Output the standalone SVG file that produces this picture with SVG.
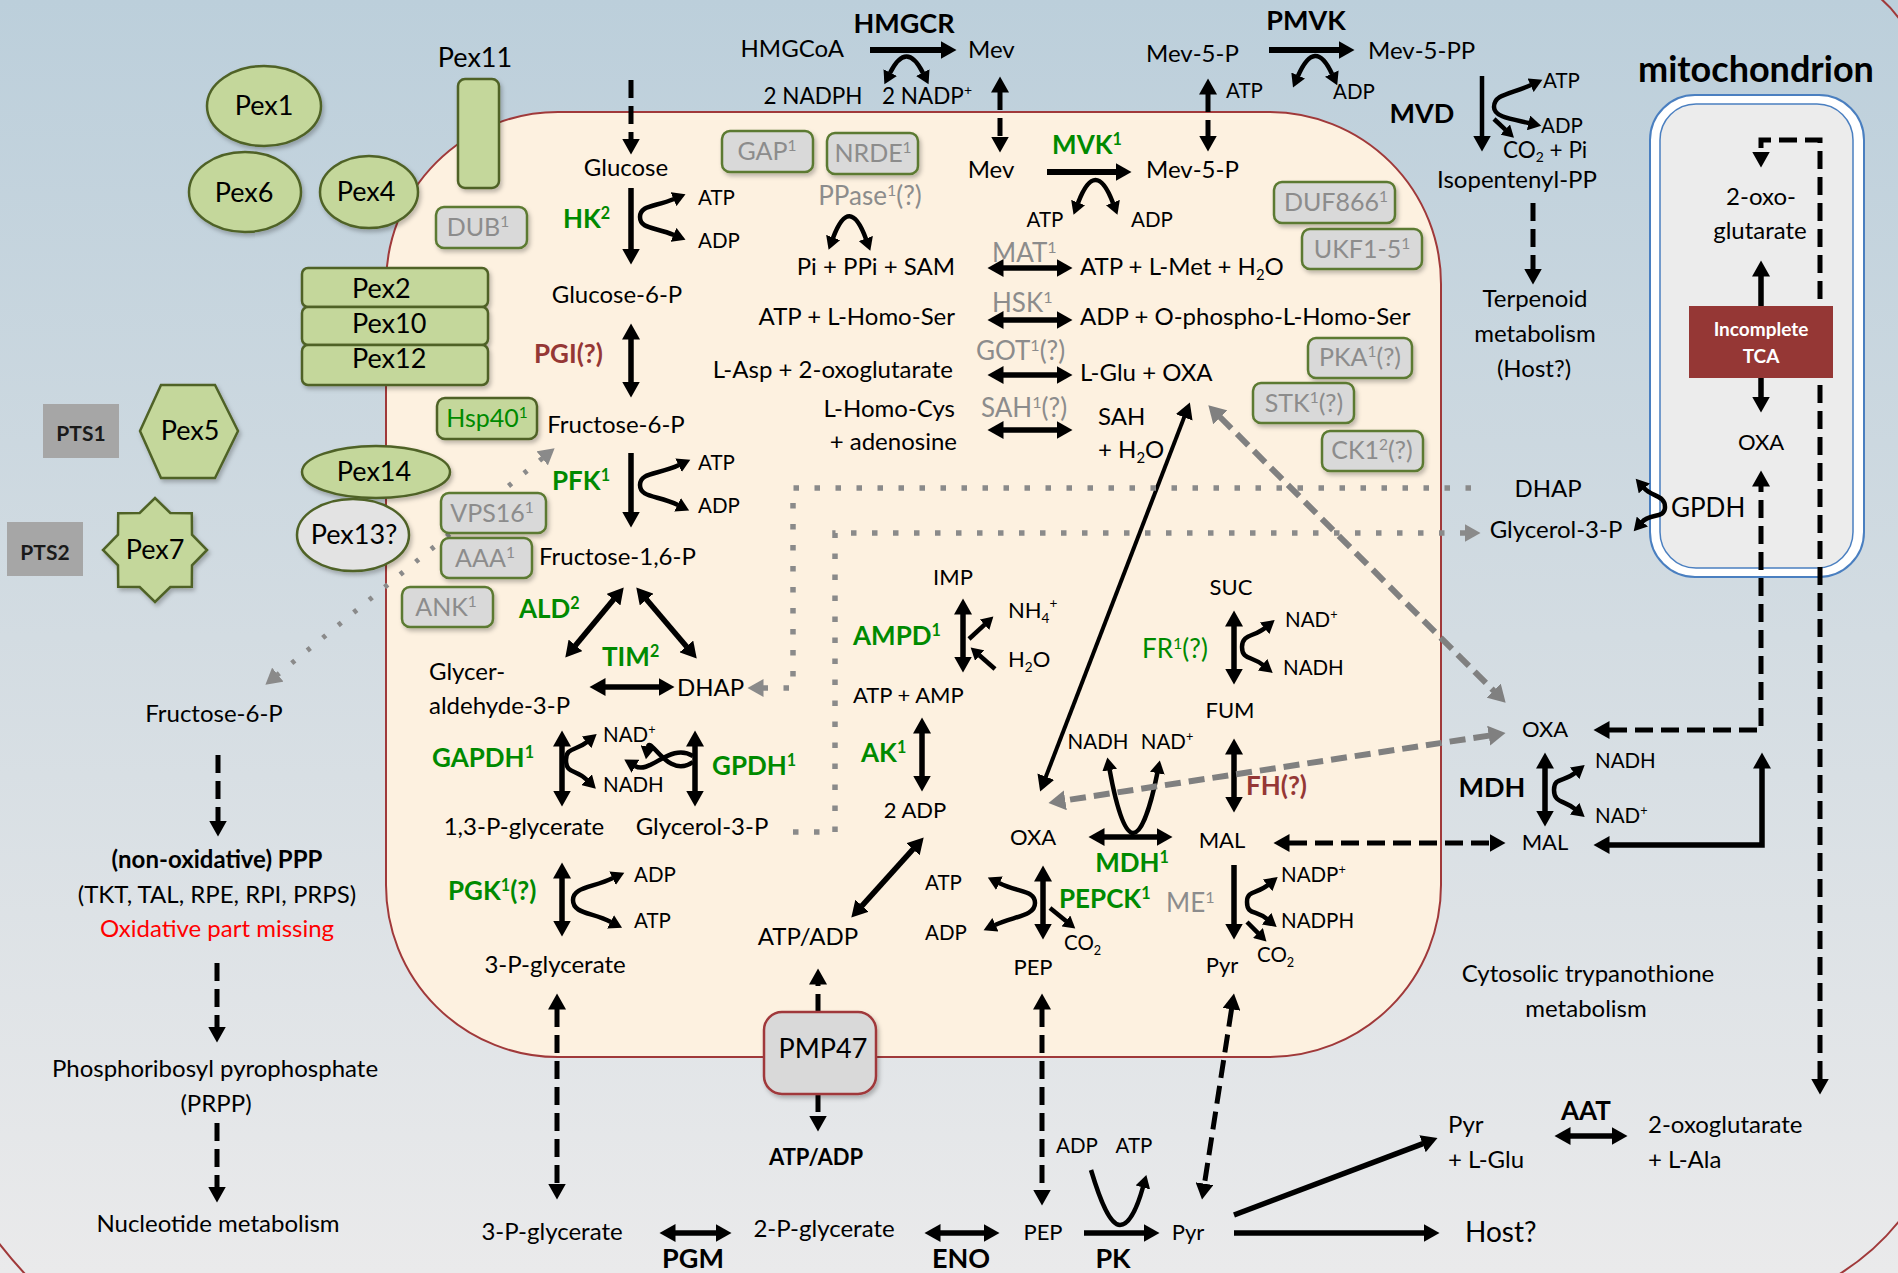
<svg xmlns="http://www.w3.org/2000/svg" width="1898" height="1273" viewBox="0 0 1898 1273">
<defs>
  <linearGradient id="bg" x1="0" y1="0" x2="0" y2="1">
    <stop offset="0" stop-color="#bccfdb"/>
    <stop offset="0.5" stop-color="#d3dce2"/>
    <stop offset="1" stop-color="#eaeaeb"/>
  </linearGradient>
  <filter id="sh" x="-20%" y="-20%" width="150%" height="160%">
    <feDropShadow dx="2" dy="3" stdDeviation="2" flood-color="#000" flood-opacity="0.25"/>
  </filter>
  <marker id="ak" markerUnits="userSpaceOnUse" markerWidth="17" markerHeight="18" refX="0.5" refY="9" orient="auto-start-reverse"><path d="M0,0 L16,9 L0,18 Z" fill="#000"/></marker>
  <marker id="mc" markerUnits="userSpaceOnUse" markerWidth="14" markerHeight="15" refX="0.5" refY="7.5" orient="auto-start-reverse"><path d="M0,0 L13,7.5 L0,15 Z" fill="#000"/></marker>
  <marker id="ms" markerUnits="userSpaceOnUse" markerWidth="13" markerHeight="14" refX="0.5" refY="7" orient="auto-start-reverse"><path d="M0,0 L12,7 L0,14 Z" fill="#000"/></marker>
  <marker id="mg" markerUnits="userSpaceOnUse" markerWidth="18" markerHeight="20" refX="0.5" refY="10" orient="auto-start-reverse"><path d="M0,0 L17,10 L0,20 Z" fill="#808080"/></marker>
  <marker id="md" markerUnits="userSpaceOnUse" markerWidth="17" markerHeight="18" refX="0.5" refY="9" orient="auto-start-reverse"><path d="M0,0 L16,9 L0,18 Z" fill="#8a8a8a"/></marker>
</defs>
<style>
  text { font-family: Lato, "Open Sans", sans-serif; fill: #000; }
  .m { font-size: 24px; }
  .n { font-size: 22px; }
  .c { font-size: 20.5px; }
  .e { font-size: 26px; font-weight: 700; fill: #008a00; }
  .eg { font-size: 26px; fill: #008a00; }
  .k { font-size: 27px; font-weight: 700; }
  .r { font-size: 26px; font-weight: 700; fill: #953735; }
  .g { font-size: 26px; fill: #8c8c8c; }
  .gb { font-size: 25px; fill: #8c8c8c; }
  .px { font-size: 27px; }
  .mid { text-anchor: middle; }
  .end { text-anchor: end; }
  .sp { font-size: 62%; }
  .pex { fill: #c4d79b; stroke: #4f6228; stroke-width: 2.5; filter: url(#sh); }
  .bx { fill: #d9d9d9; stroke: #5b7a30; stroke-width: 2.5; filter: url(#sh); }
  .a { fill: none; stroke: #000; stroke-width: 5.5; marker-end: url(#ak); }
  .a2 { fill: none; stroke: #000; stroke-width: 5.5; marker-start: url(#ak); marker-end: url(#ak); }
  .d { fill: none; stroke: #000; stroke-width: 5; stroke-dasharray: 18 8; marker-end: url(#ak); }
  .d2 { fill: none; stroke: #000; stroke-width: 5; stroke-dasharray: 18 8; marker-start: url(#ak); marker-end: url(#ak); }
  .cf { fill: none; stroke: #000; stroke-width: 4.5; marker-start: url(#mc); marker-end: url(#mc); }
  .cf1 { fill: none; stroke: #000; stroke-width: 4.5; marker-end: url(#mc); }
  .s { fill: none; stroke: #000; stroke-width: 4.5; marker-end: url(#ms); }
  .g2 { fill: none; stroke: #808080; stroke-width: 6; stroke-dasharray: 16 8; marker-start: url(#mg); marker-end: url(#mg); }
  .t { fill: none; stroke: #8a8a8a; stroke-width: 5.5; stroke-dasharray: 5.5 15.5; marker-end: url(#md); }
  .t2 { fill: none; stroke: #8a8a8a; stroke-width: 5; stroke-dasharray: 4 16; marker-start: url(#md); marker-end: url(#md); }
</style>

<!-- background and compartments -->
<rect x="0" y="0" width="1898" height="1273" fill="url(#bg)"/>
<g id="cell-membrane" fill="none" stroke="#a0393a" stroke-width="2">
  <path d="M1880,-2 Q1892,8 1900,20"/>
  <path d="M1838,1275 Q1875,1252 1900,1220"/>
  <path d="M-2,1242 Q12,1260 26,1275"/>
</g>
<rect id="glycosome" x="386" y="112" width="1055" height="945" rx="172" fill="#fdf1e0" stroke="#a0393a" stroke-width="2"/>
<g id="mitochondrion">
  <rect x="1650" y="95" width="214" height="482" rx="45" fill="#ffffff" stroke="#4a7fc0" stroke-width="2"/>
  <rect x="1660" y="104" width="193" height="464" rx="36" fill="#ececec" stroke="#4a7fc0" stroke-width="1.5"/>
</g>

<!-- connectors -->
<g id="connectors">
  <!-- glycolysis -->
  <path class="d" d="M631,80 V139"/>
  <path class="a" d="M631,188 V249"/>
  <path class="a2" d="M631,339 V382"/>
  <path class="a" d="M631,453 V512"/>
  <path class="a2" d="M613.8,599.3 L575.2,645.7"/>
  <path class="a2" d="M646.3,599.2 L686.7,646.8"/>
  <path class="a2" d="M605,687 H659"/>
  <path class="a2" d="M562,746 V791"/>
  <path class="a2" d="M695,746 V791"/>
  <path class="a2" d="M562,878 V921"/>
  <path class="d2" d="M557,1009 V1184"/>
  <path class="cf" d="M674,199 C655,207 640,205 640,217 C640,229 655,227 674,235"/>
  <path class="cf" d="M679,465 C658,475 640,472 640,485 C640,498 658,495 678,505"/>
  <path class="cf" d="M587,742 C576,751 566,747 566,760 C566,774 576,769 587,780"/>
  <path class="cf1" d="M693,756 C670,742 650,775 635,766"/>
  <path class="cf1" d="M693,762 C668,780 650,735 648,747"/>
  <path class="cf" d="M613,878 C592,888 573,887 573,900 C573,914 592,912 611,922"/>
  <!-- mevalonate pathway -->
  <path fill="none" stroke="#000" stroke-width="6" marker-end="url(#ak)" d="M870,50 H941"/>
  <path class="cf" d="M890,73 Q906.5,40 923,73"/>
  <path class="d2" d="M1000,92 V137"/>
  <path fill="none" stroke="#000" stroke-width="6" marker-end="url(#ak)" d="M1047,172 H1116"/>
  <path class="cf" d="M1078,203 Q1095.5,157 1113,203"/>
  <path class="d2" d="M1208,94 V136"/>
  <path fill="none" stroke="#000" stroke-width="6" marker-end="url(#ak)" d="M1269,50 H1339"/>
  <path class="cf" d="M1298,76 Q1315,37 1332,74"/>
  <path fill="none" stroke="#000" stroke-width="4.5" marker-end="url(#ak)" d="M1482,76 V136"/>
  <path class="cf" d="M1531,85 C1511,94 1494,94 1494,107 C1494,117 1511,119 1529,123"/>
  <path class="s" d="M1494,119 L1505.6,129.9"/>
  <path class="d" d="M1533,203 V269"/>
  <!-- methionine / amino acid reactions -->
  <path class="cf" d="M833,238 Q849.5,194 866,239"/>
  <path class="a2" d="M1003,268 H1057"/>
  <path class="a2" d="M1003,320 H1057"/>
  <path class="a2" d="M1003,375 H1057"/>
  <path class="a2" d="M1003,430 H1057"/>
  <!-- purine salvage -->
  <path class="a2" d="M963,614 V657"/>
  <path class="s" d="M969,639 L984.9,624.4"/>
  <path class="s" d="M995,669 L979.3,655.2"/>
  <path class="a2" d="M922,733 V776"/>
  <path class="a2" d="M913.3,848.9 L861.7,906.1"/>
  <!-- succinate fermentation -->
  <path class="a2" d="M1234,626 V669"/>
  <path class="cf" d="M1265,628 C1254,637 1242,634 1242,647 C1242,660 1252,656 1263,665"/>
  <path class="a2" d="M1234,754 V797"/>
  <path class="a2" d="M1104,837 H1157"/>
  <path class="cf" d="M1109.6,769.7 C1116,805 1124,833 1133,833 C1142,833 1151,805 1157.4,772.7"/>
  <path class="a2" d="M1043,881 V924"/>
  <path class="cf" d="M999,883 C1019,893 1035,890 1035,903 C1035,916 1015,916 995,925"/>
  <path class="s" d="M1050,908 L1066.3,921.2"/>
  <path class="a" d="M1234,865 V924"/>
  <path class="cf" d="M1268,885 C1257,894 1247,890 1247,902 C1247,915 1256,910 1267,919"/>
  <path class="s" d="M1247,922 L1258.3,933.3"/>
  <path fill="none" stroke="#000" stroke-width="4" marker-start="url(#ak)" marker-end="url(#ak)" d="M1184.3,416.9 L1045.7,777.1"/>
  <!-- transport across the membrane -->
  <path class="d2" d="M1042,1009 V1190"/>
  <path class="d2" d="M1231.6,1008.8 L1204.4,1184.2"/>
  <path class="d" d="M818,1012 V984"/>
  <path class="d" d="M818,1094 V1116"/>
  <path class="d2" d="M1289,843 H1490"/>
  <path class="g2" d="M1220,417 L1494,691"/>
  <path class="g2" d="M1489.2,735.6 L1064.8,800.4"/>
  <path class="t" d="M1471,488 H793 V688 H763"/>
  <path class="t" d="M793,832 H835 V533 H1465"/>
  <path class="t2" d="M542.6,458.1 L277.4,674.9"/>
  <!-- cytosol -->
  <path class="a2" d="M675,1233 H716"/>
  <path class="a2" d="M940,1233 H984"/>
  <path class="a" d="M1084,1233 H1144"/>
  <path class="cf1" d="M1091,1170 C1100,1200 1110,1225 1120,1225 C1130,1225 1138,1205 1143,1187"/>
  <path class="a" d="M1234,1233 H1424"/>
  <path class="a" d="M1234,1215 L1423,1143.6"/>
  <path class="a2" d="M1570,1136 H1612"/>
  <path class="a2" d="M1545,768 V811"/>
  <path class="cf" d="M1575,773 C1564,782 1554,777 1554,790 C1554,803 1564,800 1575,809"/>
  <path class="d" d="M218,755 V821"/>
  <path class="d" d="M217,963 V1027"/>
  <path class="d" d="M217,1123 V1187"/>
  <!-- mitochondrion links -->
  <path class="a2" d="M1761,276 V397"/>
  <path class="d2" d="M1820,1079 V140 H1761 V152"/>
  <path class="d2" d="M1609,730 H1761 V486"/>
  <path class="a2" d="M1609,845 H1762 V768"/>
  <path class="cf" d="M1644,488 C1652,497 1665,495 1665,507 C1665,519 1650,513 1642,522"/>
</g>

<!-- peroxins -->
<g id="pex1"><ellipse class="pex" cx="264" cy="106" rx="57" ry="40"/><text class="px mid" x="264" y="115">Pex1</text></g>
<g id="pex6"><ellipse class="pex" cx="245" cy="192" rx="56" ry="40"/><text class="px mid" x="244" y="202">Pex6</text></g>
<g id="pex4"><ellipse class="pex" cx="369" cy="192" rx="49" ry="36"/><text class="px mid" x="366" y="201">Pex4</text></g>
<g id="pex11"><text class="px mid" x="475" y="67">Pex11</text><rect class="pex" x="458" y="79" width="41" height="109" rx="7"/></g>
<g id="pex2"><rect class="pex" x="302" y="268" width="186" height="39" rx="6"/><text class="px" x="352" y="298">Pex2</text></g>
<g id="pex10"><rect class="pex" x="302" y="307" width="186" height="38" rx="6"/><text class="px" x="352" y="333">Pex10</text></g>
<g id="pex12"><rect class="pex" x="302" y="345" width="186" height="40" rx="6"/><text class="px" x="352" y="368">Pex12</text></g>
<g id="pts1"><rect x="43" y="404" width="76" height="54" fill="#a6a6a6"/><text class="mid" x="81" y="441" style="font-size:21px;font-weight:700;fill:#1a1a1a">PTS1</text></g>
<g id="pex5"><polygon class="pex" points="161,385 215,385 238,431 215,478 161,478 140,431"/><text class="px mid" x="190" y="440">Pex5</text></g>
<g id="pts2"><rect x="7" y="522" width="76" height="54" fill="#a6a6a6"/><text class="mid" x="45" y="560" style="font-size:21px;font-weight:700;fill:#1a1a1a">PTS2</text></g>
<g id="pex7"><polygon class="pex" points="207,550 192,565.3 191.8,586.8 170.3,587 155,602 139.7,587 118.2,586.8 118,565.3 103,550 118,534.7 118.2,513.2 139.7,513 155,498 170.3,513 191.8,513.2 192,534.7"/><text class="px mid" x="155" y="559">Pex7</text></g>
<g id="pex14"><ellipse class="pex" cx="376" cy="472" rx="74" ry="26"/><text class="px mid" x="374" y="481">Pex14</text></g>
<g id="pex13"><ellipse cx="353" cy="535" rx="56" ry="36" fill="#e3e3e3" stroke="#4f6228" stroke-width="2.5" filter="url(#sh)"/><text class="px mid" x="354" y="544">Pex13?</text></g>

<!-- glycosomal proteins of unknown role -->
<g id="dub"><rect class="bx" x="436" y="207" width="91" height="41" rx="8"/><text class="gb mid" x="478" y="236">DUB<tspan class="sp" dy="-9">1</tspan></text></g>
<g id="hsp40"><rect x="437" y="398" width="100" height="41" rx="8" fill="#c4d79b" stroke="#4f6228" stroke-width="2.5" filter="url(#sh)"/><text class="mid" x="487" y="427" style="font-size:25px;fill:#008a00">Hsp40<tspan class="sp" dy="-9">1</tspan></text></g>
<g id="vps16"><rect class="bx" x="441" y="493" width="105" height="40" rx="8"/><text class="gb mid" x="492" y="522">VPS16<tspan class="sp" dy="-9">1</tspan></text></g>
<g id="aaa"><rect class="bx" x="441" y="538" width="91" height="40" rx="8"/><text class="gb mid" x="485" y="567">AAA<tspan class="sp" dy="-9">1</tspan></text></g>
<g id="ank"><rect class="bx" x="402" y="587" width="91" height="40" rx="8"/><text class="gb mid" x="446" y="616">ANK<tspan class="sp" dy="-9">1</tspan></text></g>
<g id="gap"><rect class="bx" x="722" y="131" width="91" height="41" rx="8"/><text class="gb mid" x="767" y="160">GAP<tspan class="sp" dy="-9">1</tspan></text></g>
<g id="nrde"><rect class="bx" x="827" y="133" width="91" height="41" rx="8"/><text class="gb mid" x="873" y="162">NRDE<tspan class="sp" dy="-9">1</tspan></text></g>
<g id="duf866"><rect class="bx" x="1274" y="182" width="121" height="41" rx="8"/><text class="gb mid" x="1336" y="211">DUF866<tspan class="sp" dy="-9">1</tspan></text></g>
<g id="ukf"><rect class="bx" x="1302" y="229" width="120" height="40" rx="8"/><text class="gb mid" x="1362" y="258">UKF1-5<tspan class="sp" dy="-9">1</tspan></text></g>
<g id="pka"><rect class="bx" x="1308" y="338" width="104" height="40" rx="8"/><text class="gb mid" x="1360" y="366">PKA<tspan class="sp" dy="-9">1</tspan><tspan dy="9">(?)</tspan></text></g>
<g id="stk"><rect class="bx" x="1253" y="383" width="101" height="40" rx="8"/><text class="gb mid" x="1304" y="412">STK<tspan class="sp" dy="-9">1</tspan><tspan dy="9">(?)</tspan></text></g>
<g id="ck1"><rect class="bx" x="1322" y="431" width="101" height="40" rx="8"/><text class="gb mid" x="1372" y="459">CK1<tspan class="sp" dy="-9">2</tspan><tspan dy="9">(?)</tspan></text></g>
<g id="pmp47"><rect x="764" y="1012" width="112" height="82" rx="18" fill="#d9d9d9" stroke="#a0393a" stroke-width="2.5" filter="url(#sh)"/><text class="px mid" x="823" y="1058">PMP47</text></g>

<!-- mevalonate pathway nodes -->
<g id="hmgcr"><text class="k mid" x="904" y="33">HMGCR</text></g>
<g id="hmgcoa"><text class="m end" x="844" y="57">HMGCoA</text></g>
<g id="mev-out"><text class="m" x="968" y="58">Mev</text></g>
<g id="nadph-hmgcr"><text class="mid" x="813" y="104" style="font-size:22.5px">2 NADPH</text></g>
<g id="nadp-hmgcr"><text class="mid" x="927" y="104" style="font-size:22.5px">2 NADP<tspan class="sp" dy="-9">+</tspan></text></g>
<g id="mev-in"><text class="m mid" x="991" y="178">Mev</text></g>
<g id="mvk"><text class="e mid" x="1087" y="154">MVK<tspan class="sp" dy="-9">1</tspan></text></g>
<g id="mvk-atp"><text class="c mid" x="1045" y="227">ATP</text></g>
<g id="mvk-adp"><text class="c mid" x="1152" y="227">ADP</text></g>
<g id="mev5p-in"><text class="m" x="1146" y="178">Mev-5-P</text></g>
<g id="mev5p-out"><text class="m" x="1146" y="62">Mev-5-P</text></g>
<g id="pmvk-atp"><text class="c" x="1226" y="98">ATP</text></g>
<g id="pmvk"><text class="k mid" x="1306" y="30">PMVK</text></g>
<g id="mev5pp"><text class="m" x="1368" y="59">Mev-5-PP</text></g>
<g id="pmvk-adp"><text class="c" x="1333" y="99">ADP</text></g>
<g id="mvd"><text class="k mid" x="1422" y="123">MVD</text></g>
<g id="mvd-atp"><text class="c" x="1543" y="88">ATP</text></g>
<g id="mvd-adp"><text class="c" x="1541" y="133">ADP</text></g>
<g id="mvd-co2"><text x="1503" y="158" style="font-size:22.5px">CO<tspan class="sp" dy="4">2</tspan><tspan dy="-4"> + Pi</tspan></text></g>
<g id="ipp"><text class="m mid" x="1517" y="188">Isopentenyl-PP</text></g>
<g id="terpenoid"><text class="m mid" x="1535" y="307">Terpenoid</text><text class="m mid" x="1535" y="342">metabolism</text><text class="m mid" x="1534" y="377">(Host?)</text></g>

<!-- mitochondrion nodes -->
<g id="mito-label"><text class="mid" x="1756" y="82" style="font-size:36px;font-weight:700">mitochondrion</text></g>
<g id="mito-2og"><text class="m mid" x="1761" y="205">2-oxo-</text><text class="m mid" x="1760" y="239">glutarate</text></g>
<g id="tca"><rect x="1689" y="306" width="144" height="72" fill="#953735"/><text class="mid" x="1761" y="336" style="font-size:19px;font-weight:700;fill:#fff">Incomplete</text><text class="mid" x="1761" y="363" style="font-size:19px;font-weight:700;fill:#fff">TCA</text></g>
<g id="mito-oxa"><text class="n mid" x="1761" y="450">OXA</text></g>
<g id="cyt-dhap"><text class="m mid" x="1548" y="497">DHAP</text></g>
<g id="cyt-g3p"><text class="m mid" x="1556" y="538">Glycerol-3-P</text></g>
<g id="mito-gpdh"><text x="1671" y="517" style="font-size:26px">GPDH</text></g>

<!-- cytosol nodes -->
<g id="cyt-oxa"><text class="n mid" x="1545" y="737">OXA</text></g>
<g id="cyt-mdh"><text class="k mid" x="1492" y="797">MDH</text></g>
<g id="cyt-nadh"><text class="c" x="1595" y="768">NADH</text></g>
<g id="cyt-nad"><text class="c" x="1595" y="823">NAD<tspan class="sp" dy="-8">+</tspan></text></g>
<g id="cyt-mal"><text class="n mid" x="1545" y="850">MAL</text></g>
<g id="trypanothione"><text class="m mid" x="1588" y="982">Cytosolic trypanothione</text><text class="m mid" x="1586" y="1017">metabolism</text></g>
<g id="pyr-glu"><text class="m" x="1448" y="1133">Pyr</text><text class="m" x="1448" y="1168">+ L-Glu</text></g>
<g id="aat"><text class="mid" x="1586" y="1120" style="font-size:26px;font-weight:700">AAT</text></g>
<g id="og-ala"><text class="m" x="1648" y="1133">2-oxoglutarate</text><text class="m" x="1648" y="1168">+ L-Ala</text></g>
<g id="host"><text x="1465" y="1242" style="font-size:28px">Host?</text></g>
<g id="cyt-3pg"><text class="m mid" x="552" y="1240">3-P-glycerate</text></g>
<g id="pgm"><text class="k mid" x="693" y="1268">PGM</text></g>
<g id="cyt-2pg"><text class="m mid" x="824" y="1237">2-P-glycerate</text></g>
<g id="eno"><text class="k mid" x="961" y="1268">ENO</text></g>
<g id="cyt-pep"><text class="n mid" x="1043" y="1240">PEP</text></g>
<g id="pk"><text class="k mid" x="1113" y="1268">PK</text></g>
<g id="pk-adp"><text class="c mid" x="1077" y="1153">ADP</text></g>
<g id="pk-atp"><text class="c mid" x="1134" y="1153">ATP</text></g>
<g id="cyt-pyr"><text class="n mid" x="1188" y="1240">Pyr</text></g>
<g id="cyt-atpadp"><text class="mid" x="816" y="1165" style="font-size:22px;font-weight:700">ATP/ADP</text></g>
<g id="cyt-f6p"><text class="m mid" x="214" y="722">Fructose-6-P</text></g>
<g id="ppp"><text class="mid" x="217" y="868" style="font-size:24px;font-weight:700">(non-oxidative) PPP</text><text class="m mid" x="217" y="903">(TKT, TAL, RPE, RPI, PRPS)</text><text class="m mid" x="217" y="937" style="fill:#ff0000">Oxidative part missing</text></g>
<g id="prpp"><text class="m mid" x="215" y="1077">Phosphoribosyl pyrophosphate</text><text class="m mid" x="216" y="1112">(PRPP)</text></g>
<g id="nucleotide"><text class="m mid" x="218" y="1232">Nucleotide metabolism</text></g>

<!-- glycosome: glycolysis -->
<g id="glucose"><text class="m mid" x="626" y="176">Glucose</text></g>
<g id="hk"><text class="e" x="563" y="228">HK<tspan class="sp" dy="-9">2</tspan></text></g>
<g id="hk-atp"><text class="c" x="698" y="205">ATP</text></g>
<g id="hk-adp"><text class="c" x="698" y="248">ADP</text></g>
<g id="g6p"><text class="m mid" x="617" y="303">Glucose-6-P</text></g>
<g id="pgi"><text class="r" x="534" y="363">PGI(?)</text></g>
<g id="f6p"><text class="m mid" x="616" y="433">Fructose-6-P</text></g>
<g id="pfk"><text class="e" x="552" y="490">PFK<tspan class="sp" dy="-9">1</tspan></text></g>
<g id="pfk-atp"><text class="c" x="698" y="470">ATP</text></g>
<g id="pfk-adp"><text class="c" x="698" y="513">ADP</text></g>
<g id="f16bp"><text class="m" x="539" y="565">Fructose-1,6-P</text></g>
<g id="ald"><text class="e" x="519" y="618">ALD<tspan class="sp" dy="-9">2</tspan></text></g>
<g id="tim"><text class="e" x="602" y="666">TIM<tspan class="sp" dy="-9">2</tspan></text></g>
<g id="gap3p"><text class="m" x="429" y="680">Glycer-</text><text class="m" x="429" y="714">aldehyde-3-P</text></g>
<g id="dhap"><text class="m" x="677" y="696">DHAP</text></g>
<g id="gapdh"><text class="e" x="432" y="767">GAPDH<tspan class="sp" dy="-9">1</tspan></text></g>
<g id="gapdh-nad"><text class="c" x="603" y="742">NAD<tspan class="sp" dy="-8">+</tspan></text></g>
<g id="gapdh-nadh"><text class="c" x="603" y="792">NADH</text></g>
<g id="gpdh"><text class="e" x="712" y="775">GPDH<tspan class="sp" dy="-9">1</tspan></text></g>
<g id="bpg"><text class="m mid" x="524" y="835">1,3-P-glycerate</text></g>
<g id="g3p"><text class="m mid" x="702" y="835">Glycerol-3-P</text></g>
<g id="pgk"><text class="e" x="448" y="900">PGK<tspan class="sp" dy="-9">1</tspan><tspan dy="9">(?)</tspan></text></g>
<g id="pgk-adp"><text class="c" x="634" y="882">ADP</text></g>
<g id="pgk-atp"><text class="c" x="634" y="928">ATP</text></g>
<g id="pg3"><text class="m mid" x="555" y="973">3-P-glycerate</text></g>
<g id="atpadp-in"><text class="m mid" x="808" y="945">ATP/ADP</text></g>

<!-- glycosome: methionine cycle and amino acids -->
<g id="ppase"><text class="g mid" x="870" y="205">PPase<tspan class="sp" dy="-9">1</tspan><tspan dy="9">(?)</tspan></text></g>
<g id="sam"><text class="m end" x="955" y="275">Pi + PPi + SAM</text></g>
<g id="mat"><text class="g" x="992" y="262">MAT<tspan class="sp" dy="-9">1</tspan></text></g>
<g id="met"><text class="m" x="1080" y="275">ATP + L-Met + H<tspan class="sp" dy="5">2</tspan><tspan dy="-5">O</tspan></text></g>
<g id="homoser"><text class="m end" x="955" y="325">ATP + L-Homo-Ser</text></g>
<g id="hsk"><text class="g" x="992" y="312">HSK<tspan class="sp" dy="-9">1</tspan></text></g>
<g id="phosphohomoser"><text class="m" x="1080" y="325">ADP + O-phospho-L-Homo-Ser</text></g>
<g id="asp"><text class="m end" x="953" y="378">L-Asp + 2-oxoglutarate</text></g>
<g id="got"><text class="g" x="976" y="360">GOT<tspan class="sp" dy="-9">1</tspan><tspan dy="9">(?)</tspan></text></g>
<g id="glu-oxa"><text class="m" x="1080" y="381">L-Glu + OXA</text></g>
<g id="homocys"><text class="m end" x="955" y="417">L-Homo-Cys</text><text class="m end" x="957" y="450">+ adenosine</text></g>
<g id="sahh"><text class="g" x="981" y="417">SAH<tspan class="sp" dy="-9">1</tspan><tspan dy="9">(?)</tspan></text></g>
<g id="sah"><text class="m" x="1098" y="425">SAH</text><text class="m" x="1098" y="458">+ H<tspan class="sp" dy="5">2</tspan><tspan dy="-5">O</tspan></text></g>

<!-- glycosome: purine salvage -->
<g id="imp"><text class="n mid" x="953" y="585">IMP</text></g>
<g id="ampd"><text class="e" x="853" y="645">AMPD<tspan class="sp" dy="-9">1</tspan></text></g>
<g id="nh4"><text class="n" x="1008" y="618">NH<tspan class="sp" dy="5">4</tspan><tspan class="sp" dy="-15">+</tspan></text></g>
<g id="ampd-h2o"><text class="n" x="1008" y="667">H<tspan class="sp" dy="5">2</tspan><tspan dy="-5">O</tspan></text></g>
<g id="atp-amp"><text class="n" x="853" y="703">ATP + AMP</text></g>
<g id="ak"><text class="e" x="861" y="762">AK<tspan class="sp" dy="-9">1</tspan></text></g>
<g id="adp2"><text class="n mid" x="915" y="818">2 ADP</text></g>

<!-- glycosome: succinate fermentation -->
<g id="suc"><text class="n mid" x="1231" y="595">SUC</text></g>
<g id="fr"><text class="eg" x="1142" y="658">FR<tspan class="sp" dy="-9">1</tspan><tspan dy="9">(?)</tspan></text></g>
<g id="fr-nad"><text class="c" x="1285" y="627">NAD<tspan class="sp" dy="-8">+</tspan></text></g>
<g id="fr-nadh"><text class="c" x="1283" y="675">NADH</text></g>
<g id="fum"><text class="n mid" x="1230" y="718">FUM</text></g>
<g id="fh"><text class="r" x="1246" y="795">FH(?)</text></g>
<g id="mal"><text class="n mid" x="1222" y="848">MAL</text></g>
<g id="oxa"><text class="n mid" x="1033" y="845">OXA</text></g>
<g id="mdh-nadh"><text class="c mid" x="1098" y="749">NADH</text></g>
<g id="mdh-nad"><text class="c mid" x="1167" y="749">NAD<tspan class="sp" dy="-8">+</tspan></text></g>
<g id="mdh"><text class="e mid" x="1132" y="872">MDH<tspan class="sp" dy="-9">1</tspan></text></g>
<g id="pepck"><text class="e" x="1059" y="908">PEPCK<tspan class="sp" dy="-9">1</tspan></text></g>
<g id="pepck-atp"><text class="c" x="925" y="890">ATP</text></g>
<g id="pepck-adp"><text class="c" x="925" y="940">ADP</text></g>
<g id="pepck-co2"><text class="c" x="1064" y="950">CO<tspan class="sp" dy="5">2</tspan></text></g>
<g id="pep"><text class="n mid" x="1033" y="975">PEP</text></g>
<g id="me"><text class="g" x="1166" y="912">ME<tspan class="sp" dy="-9">1</tspan></text></g>
<g id="me-nadp"><text class="c" x="1281" y="882">NADP<tspan class="sp" dy="-8">+</tspan></text></g>
<g id="me-nadph"><text class="c" x="1281" y="928">NADPH</text></g>
<g id="me-co2"><text class="c" x="1257" y="962">CO<tspan class="sp" dy="5">2</tspan></text></g>
<g id="pyr"><text class="n mid" x="1222" y="973">Pyr</text></g>
</svg>
